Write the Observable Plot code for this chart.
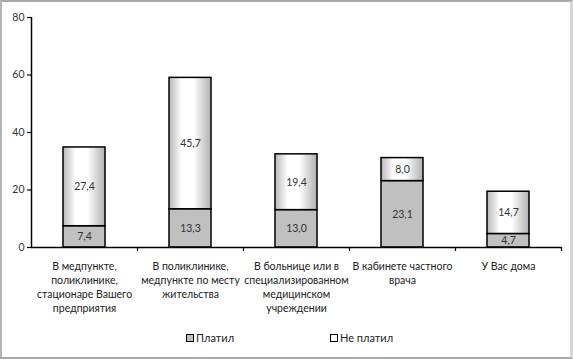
<!DOCTYPE html>
<html>
<head>
<meta charset="utf-8">
<script src="https://cdn.jsdelivr.net/npm/d3@7"></script>
<script src="https://cdn.jsdelivr.net/npm/@observablehq/plot@0.6"></script>
<style>
  html, body { margin: 0; padding: 0; background: #fff; }
  #wrap { position: relative; width: 573px; height: 359px; overflow: hidden; background: #fff; font-family: Lato, "Open Sans", sans-serif; }
  #frame { position: absolute; left: 0; top: 0; width: 573px; height: 359px; box-sizing: border-box;
           border-top: 2px solid #a8a8a8; border-left: 2px solid #b4b4b4; border-bottom: 2px solid #a8a8a8; border-right: 3px solid #d6d6d6; pointer-events: none; }
  #chart { position: absolute; left: 0; top: 0; }
  .leg { position: absolute; top: 331px; font-size: 11px; color: #222; display: flex; align-items: center; white-space: nowrap; }
  .sw { width: 6px; height: 6px; border: 1px solid #000; margin-right: 2px; }
</style>
</head>
<body>
<div id="wrap">
  <div id="chart"></div>
  <div class="leg" style="left:186px"><div class="sw" style="background:#c0c0c0"></div>Платил</div>
  <div class="leg" style="left:330px"><div class="sw" style="background:#fff"></div>Не платил</div>
  <div id="frame"></div>
</div>
<script>
const categories = ["A", "B", "C", "D", "E"];
const tickLabels = [
  "В медпункте,\nполиклинике,\nстационаре Вашего\nпредприятия",
  "В поликлинике,\nмедпункте по месту\nжительства",
  "В больнице или в\nспециализированном\nмедицинском\nучреждении",
  "В кабинете частного\nврача",
  "У Вас дома"
];
const seriesNames = ["Платил", "Не платил"];
const paid = [7.4, 13.3, 13.0, 23.1, 4.7];
const notPaid = [27.4, 45.7, 19.4, 8.0, 14.7];
const yTicks = [0, 20, 40, 60, 80];

const rows = [];
categories.forEach((c, i) => {
  rows.push({cat: c, group: seriesNames[0], value: paid[i]});
  rows.push({cat: c, group: seriesNames[1], value: notPaid[i]});
});
const fmt = v => v.toFixed(1).replace(".", ",");
const labelOf = Object.fromEntries(categories.map((c, i) => [c, tickLabels[i]]));

const chart = Plot.plot({
  width: 573,
  height: 320,
  marginTop: 17,
  marginBottom: 73,
  marginLeft: 31,
  marginRight: 12,
  style: {fontFamily: "Lato, 'Open Sans', sans-serif", fontSize: "10.5px", color: "#222", background: "transparent"},
  x: {domain: categories, paddingInner: 0.6, paddingOuter: 0.3},
  y: {domain: [0, 80]},
  color: {domain: seriesNames, range: ["#c0c0c0", "url(#wgrad)"]},
  marks: [
    Plot.barY(rows, Plot.stackY({x: "cat", y: "value", fill: "group", stroke: "#000", strokeWidth: 1.5})),
    Plot.text(rows, Plot.stackY({x: "cat", y: "value", text: d => fmt(d.value), fill: "#333", fontSize: 10.5})),
    Plot.ruleY([0], {stroke: "#000", strokeWidth: 1.5}),
    Plot.ruleX([categories[0]], {dx: -53, y1: 0, y2: 80, stroke: "#000", strokeWidth: 1.5}),
    Plot.ruleX(categories, {x: d => d, dx: 53, y1: 0, y2: -1.4, stroke: "#000", strokeWidth: 1.2, clip: false}),
    Plot.axisY({ticks: yTicks, tickSize: 4, tickPadding: 3, label: null, stroke: "#000", strokeWidth: 1.2, fill: "#333", fontSize: 10.5}),
    Plot.axisX({tickSize: 0, tickPadding: 12, label: null, tickFormat: d => labelOf[d], lineHeight: 1.36, fill: "#222", fontSize: 10.5})
  ]
});
const svg = d3.select(chart);
const defs = svg.insert("defs", ":first-child");
const g = defs.append("linearGradient").attr("id", "wgrad").attr("x1", "0").attr("x2", "1").attr("y1", "0").attr("y2", "0");
[["0%", "#b8b8b8"], ["30%", "#ffffff"], ["58%", "#ffffff"], ["100%", "#b0b0b0"]].forEach(([o, c]) => g.append("stop").attr("offset", o).attr("stop-color", c));
document.getElementById("chart").appendChild(chart);
</script>
</body>
</html>
